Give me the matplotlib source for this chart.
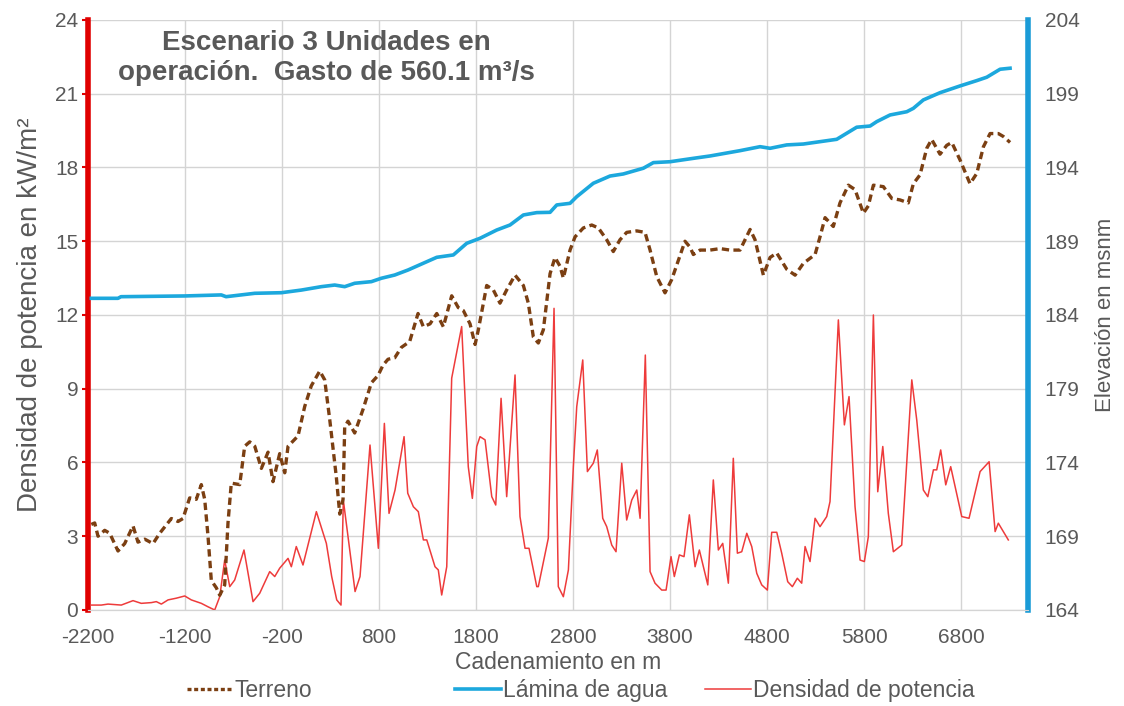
import matplotlib
matplotlib.use("Agg")
import matplotlib.pyplot as plt
from matplotlib.lines import Line2D

plt.rcParams['font.family'] = ['Liberation Sans', 'DejaVu Sans']
plt.rcParams['axes.unicode_minus'] = False

# Terreno (elevation, msnm)
terreno_x = [-2166, -2131, -2097, -2028, -1976, -1891, -1822, -1736, -1685, -1615,
             -1530, -1461, -1341, -1272, -1221, -1152, -1084, -1032, -997, -963,
             -929, -877, -842, -791, -757, -723, -636, -585, -533, -481,
             -413, -344, -293, -224, -172, -138, -35, 34, 102, 189,
             240, 292, 360, 395, 429, 446, 480, 549, 635, 721,
             790, 841, 893, 962, 1030, 1116, 1202, 1257, 1326, 1395,
             1463, 1549, 1617, 1669, 1738, 1790, 1824, 1910, 1978, 2047,
             2116, 2202, 2288, 2339, 2391, 2442, 2494, 2563, 2614, 2666,
             2700, 2769, 2821, 2906, 2993, 3061, 3147, 3215, 3284, 3353,
             3457, 3542, 3594, 3663, 3748, 3817, 3885, 3954, 4006, 4040,
             4109, 4212, 4315, 4418, 4521, 4625, 4676, 4762, 4831, 4900,
             5003, 5089, 5174, 5295, 5346, 5398, 5483, 5552, 5638, 5707,
             5793, 5844, 5896, 5999, 6086, 6171, 6256, 6308, 6377, 6446,
             6497, 6583, 6652, 6704, 6790, 6892, 6962, 7030, 7099, 7184,
             7236, 7305]
terreno = [169.8, 169.9, 169.0, 169.4, 169.2, 168.0, 168.5, 169.7, 168.6, 168.8,
           168.5, 169.2, 170.2, 170.0, 170.2, 171.6, 171.5, 172.5, 171.5, 169.0,
           166.0, 165.5, 165.0, 165.7, 169.9, 172.6, 172.5, 175.1, 175.4, 175.1,
           173.6, 174.7, 172.7, 174.6, 173.3, 175.1, 175.8, 177.8, 179.2, 180.2,
           179.6, 176.9, 173.0, 170.5, 171.5, 176.4, 176.8, 176.0, 177.6, 179.4,
           179.9, 180.6, 181.0, 181.1, 181.8, 182.2, 184.1, 183.2, 183.4, 184.1,
           183.2, 185.3, 184.5, 184.3, 183.4, 182.0, 183.0, 186.0, 185.7, 184.8,
           185.7, 186.7, 186.0, 184.8, 182.5, 182.1, 183.0, 186.8, 187.9, 187.3,
           186.5, 188.4, 189.3, 189.9, 190.1, 189.9, 189.1, 188.3, 189.1, 189.6,
           189.7, 189.6, 188.4, 186.6, 185.5, 186.4, 187.7, 189.0, 188.6, 188.1,
           188.4, 188.4, 188.5, 188.4, 188.4, 189.8, 189.1, 186.7, 187.9, 188.2,
           187.1, 186.7, 187.5, 188.1, 189.3, 190.6, 190.0, 191.6, 192.8, 192.5,
           190.9, 191.4, 192.8, 192.7, 191.9, 191.8, 191.6, 192.9, 193.5, 195.3,
           195.9, 194.9, 195.5, 195.7, 194.5, 192.9, 193.6, 195.4, 196.3, 196.3,
           196.1, 195.7]

# Lamina de agua (elevation, msnm)
lamina_x = [-2166, -1891, -1860, -1203, -826, -777, -481, -207, 0, 205,
            343, 446, 549, 721, 824, 962, 1099, 1257, 1395, 1566,
            1704, 1841, 2013, 2150, 2288, 2426, 2563, 2632, 2769, 2838,
            3009, 3181, 3318, 3525, 3628, 3800, 4040, 4212, 4401, 4521,
            4728, 4831, 5003, 5174, 5346, 5518, 5621, 5724, 5862, 5931,
            6068, 6240, 6308, 6411, 6583, 6790, 6962, 7065, 7202, 7305]
lamina = [185.13, 185.13, 185.24, 185.29, 185.36, 185.24, 185.47, 185.51, 185.69, 185.92,
          186.03, 185.92, 186.15, 186.26, 186.49, 186.71, 187.05, 187.51, 187.91, 188.07,
          188.86, 189.2, 189.76, 190.1, 190.78, 190.94, 190.96, 191.46, 191.57, 192.02,
          192.93, 193.42, 193.56, 193.95, 194.33, 194.39, 194.62, 194.78, 195.0, 195.14,
          195.41, 195.3, 195.53, 195.59, 195.75, 195.91, 196.32, 196.73, 196.81, 197.11,
          197.56, 197.78, 198.01, 198.58, 199.07, 199.53, 199.89, 200.12, 200.66, 200.73]

# Densidad de potencia (kW/m2)
densidad_x = [-2166, -2063, -1994, -1857, -1736, -1651, -1547, -1496, -1444, -1375,
              -1290, -1203, -1135, -1032, -963, -894, -842, -791, -739, -688,
              -592, -499, -430, -327, -275, -224, -138, -104, -53, 16,
              154, 257, 312, 364, 408, 432, 553, 604, 707, 793,
              855, 903, 965, 1058, 1096, 1154, 1205, 1257, 1292, 1377,
              1411, 1446, 1498, 1549, 1652, 1720, 1762, 1807, 1841, 1893,
              1962, 2003, 2058, 2116, 2202, 2253, 2305, 2346, 2426, 2442,
              2545, 2604, 2648, 2700, 2752, 2803, 2838, 2900, 2948, 3009,
              3050, 3106, 3147, 3199, 3243, 3302, 3353, 3405, 3457, 3491,
              3545, 3594, 3645, 3714, 3759, 3810, 3844, 3896, 3944, 3999,
              4058, 4102, 4189, 4246, 4298, 4343, 4401, 4452, 4494, 4539,
              4591, 4642, 4694, 4745, 4803, 4848, 4900, 4951, 5013, 5061,
              5112, 5157, 5192, 5243, 5295, 5346, 5415, 5449, 5535, 5597,
              5645, 5707, 5759, 5803, 5844, 5896, 5941, 5993, 6050, 6102,
              6188, 6292, 6343, 6411, 6457, 6515, 6549, 6590, 6642, 6693,
              6807, 6882, 6996, 7089, 7151, 7184, 7287]
densidad = [0.20, 0.20, 0.24, 0.20, 0.38, 0.27, 0.30, 0.34, 0.24, 0.41,
            0.48, 0.57, 0.41, 0.27, 0.13, 0.00, 0.54, 2.03, 0.95, 1.22,
            2.44, 0.34, 0.68, 1.56, 1.36, 1.70, 2.10, 1.76, 2.58, 1.83,
            4.00, 2.71, 1.36, 0.41, 0.20, 4.47, 0.75, 1.36, 6.71, 2.51,
            7.59, 3.93, 4.88, 7.05, 4.75, 4.20, 4.00, 2.85, 2.85, 1.76,
            1.63, 0.61, 1.76, 9.43, 11.53, 5.83, 4.54, 6.65, 7.05, 6.92,
            4.61, 4.27, 8.61, 4.61, 9.56, 3.80, 2.51, 2.51, 0.95, 0.95,
            2.92, 12.27, 0.95, 0.54, 1.63, 5.83, 8.27, 10.17, 5.63, 5.97,
            6.51, 3.73, 3.39, 2.64, 2.37, 5.97, 3.66, 4.47, 4.88, 3.73,
            10.37, 1.56, 1.09, 0.81, 0.81, 2.17, 1.36, 2.24, 2.17, 3.87,
            1.76, 2.44, 1.02, 5.29, 2.44, 2.71, 1.09, 6.17, 2.31, 2.37,
            3.12, 2.58, 1.49, 1.02, 0.81, 3.16, 3.16, 2.31, 1.15, 0.95,
            1.29, 1.09, 2.58, 1.97, 3.73, 3.39, 3.80, 4.41, 11.80, 7.53,
            8.68, 4.20, 2.03, 1.97, 2.98, 12.00, 4.81, 6.65, 3.93, 2.37,
            2.64, 9.36, 7.73, 4.88, 4.61, 5.70, 5.70, 6.51, 5.09, 5.83,
            3.80, 3.73, 5.63, 6.03, 3.19, 3.53, 2.85]

x_ticks = list(range(-2200, 7000, 1000))
left_ticks = list(range(0, 25, 3))
right_ticks = list(range(164, 205, 5))

text_gray = '#595959'
red = '#EE3B3B'
blue = '#1CA8DD'
brown = '#7B3F12'

fig = plt.figure(figsize=(11.24, 7.06), dpi=100)
ax = fig.add_axes([0.0783, 0.136, 0.8363, 0.8357])
ax2 = ax.twinx()

# densidad on left axis
ax.plot(densidad_x, densidad, color=red, linewidth=1.1, zorder=3)
ax.set_xlim(-2200, 7490)
ax.set_ylim(0, 24)
ax.set_xticks(x_ticks)
ax.set_yticks(left_ticks)
ax.grid(True, color='#D4D4D4', linewidth=1.0)
ax.set_axisbelow(True)

# elevations on right axis
ax2.plot(terreno_x, terreno, color=brown, linewidth=2.4,
         linestyle=(0, (2.2, 1.3)), zorder=3)
ax2.plot(lamina_x, lamina, color=blue, linewidth=2.6, zorder=3)
ax2.set_ylim(164, 204)
ax2.set_yticks(right_ticks)

for a in (ax, ax2):
    a.spines['top'].set_visible(False)
    a.spines['bottom'].set_color('#D4D4D4')
ax.spines['left'].set_color('#E00000')
ax.spines['left'].set_linewidth(4)
ax.spines['right'].set_visible(False)
ax2.spines['left'].set_visible(False)
ax2.spines['right'].set_color('#1A9BD7')
ax2.spines['right'].set_linewidth(4)

ax.tick_params(axis='x', length=0, labelsize=15, labelcolor=text_gray, pad=13)
ax.tick_params(axis='y', length=4, width=1.5, color='#E00000',
               labelsize=15, labelcolor=text_gray, pad=3)
ax2.tick_params(axis='y', length=0, labelsize=15, labelcolor=text_gray, pad=12)

ax.set_ylabel('Densidad de potencia en kW/m²', fontsize=20, color=text_gray, labelpad=9)
ax2.set_ylabel('Elevación en msnm', fontsize=16, color=text_gray, labelpad=11)
ax.set_xlabel('Cadenamiento en m', fontsize=16.5, color=text_gray, labelpad=3)

ax.text(0.254, 0.935, 'Escenario 3 Unidades en\noperación.  Gasto de 560.1 m³/s',
        transform=ax.transAxes, ha='center', va='center', fontsize=20,
        fontweight='bold', color=text_gray, linespacing=1.2)

# legend: three entries placed like the original evenly spaced columns
legend_items = [
    (Line2D([], [], color=brown, linewidth=2.4, linestyle=(0, (1.2, 0.8))), 'Terreno', 0.166),
    (Line2D([], [], color=blue, linewidth=2.6), 'Lámina de agua', 0.405),
    (Line2D([], [], color=red, linewidth=1.1), 'Densidad de potencia', 0.627),
]
for handle, label, xpos in legend_items:
    fig.legend([handle], [label], loc='center left', bbox_to_anchor=(xpos, 0.022),
               frameon=False, handlelength=2.0, handletextpad=0.1,
               borderpad=0, borderaxespad=0, fontsize=16.5, labelcolor=text_gray)

fig.savefig('out.png', dpi=100)
